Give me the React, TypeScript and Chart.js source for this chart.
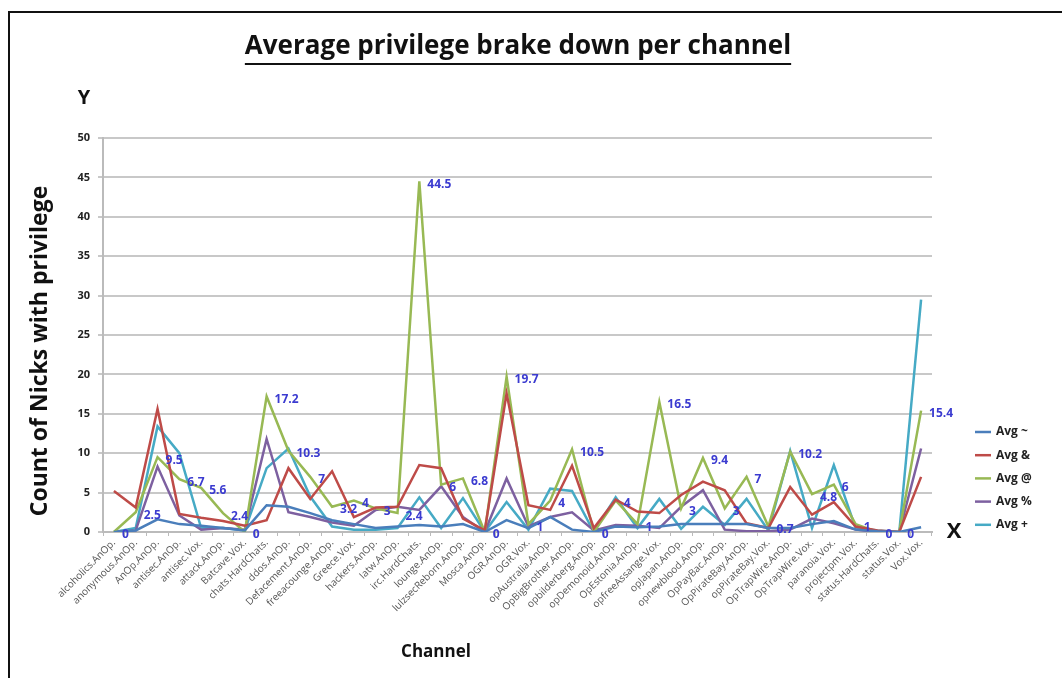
import React, { useEffect, useRef } from "react";
import { Chart, registerables } from "chart.js";

Chart.register(...registerables);

const channels = [
  "alcoholics.AnOp.", "anonymous.AnOp.", "AnOp.AnOp.", "antisec.AnOp.", "antisec.Vox.",
  "attack.AnOp.", "Batcave.Vox.", "chats.HardChats.", "ddos.AnOp.", "Defacement.AnOp.",
  "freeacounge.AnOp.", "Greece.Vox.", "hackers.AnOp.", "Iatw.AnOp.", "irc.HardChats.",
  "lounge.AnOp.", "lulzsecReborn.AnOp.", "Mosca.AnOp.", "OGR.AnOp.", "OGR.Vox.",
  "opAustralia.AnOp.", "OpBigBrother.AnOp.", "opbilderberg.AnOp.", "opDemonoid.AnOp.", "OpEstonia.AnOp.",
  "opfreeAssange.Vox.", "opJapan.AnOp.", "opnewblood.AnOp.", "OpPayBac.AnOp.", "OpPirateBay.AnOp.",
  "opPirateBay.Vox.", "OpTrapWire.AnOp.", "OpTrapWire.Vox.", "paranoia.Vox.", "projectpm.Vox.",
  "status.HardChats.", "status.Vox.", "Vox.Vox."
];

const avgTilde = [
  0, 0.2, 1.6, 1.0, 0.8, 0.5, 0.2, 3.4, 3.2, 2.4,
  1.5, 1.0, 0.5, 0.7, 0.9, 0.7, 1.0, 0, 1.5, 0.5,
  1.9, 0.3, 0, 0.7, 0.6, 0.7, 1.0, 1.0, 1.0, 1.0,
  0.5, 0.5, 1.0, 1.4, 0.3, 0.1, 0, 0.6
];
const avgAmp = [
  5.2, 3.1, 15.6, 2.3, 1.8, 1.4, 0.8, 1.5, 8.1, 4.2,
  7.7, 1.9, 3.1, 3.2, 8.5, 8.1, 1.7, 0.2, 17.6, 3.4,
  2.8, 8.4, 0.5, 4.1, 2.6, 2.4, 4.7, 6.4, 5.3, 1.1,
  0.5, 5.7, 2.2, 3.8, 0.7, 0.2, 0, 7.0
];
const avgAt = [
  0, 2.5, 9.5, 6.7, 5.6, 2.4, 0, 17.2, 10.3, 7,
  3.2, 4, 3, 2.4, 44.5, 6, 6.8, 0, 19.7, 1,
  4, 10.5, 0, 4, 1, 16.5, 3, 9.4, 3, 7,
  0.7, 10.2, 4.8, 6, 1, 0, 0, 15.4
];
const avgPct = [
  0, 0.2, 8.3, 2.1, 0.3, 0.5, 0.3, 11.8, 2.5, 1.9,
  1.2, 0.8, 2.8, 3.2, 2.8, 5.8, 1.9, 0, 6.8, 0.7,
  1.9, 2.5, 0.2, 0.9, 0.8, 0.5, 3.2, 5.3, 0.3, 0.1,
  0.1, 0.3, 1.7, 1.1, 0.3, 0, 0, 10.6
];
const avgPlus = [
  0, 0.5, 13.4, 10, 0.5, 0.5, 0.2, 8.1, 10.6, 4.5,
  0.7, 0.3, 0.3, 0.5, 4.4, 0.5, 4.3, 0, 3.8, 0.3,
  5.5, 5.2, 0, 4.4, 0.5, 4.2, 0.4, 3.2, 0.9, 4.2,
  0.2, 10.3, 0.5, 8.5, 0.5, 0.2, 0, 29.5
];

const seriesNames = ["Avg ~", "Avg &", "Avg @", "Avg %", "Avg +"];
const seriesColors = ["#4a7ebb", "#be4b48", "#98b954", "#7d60a0", "#46aac5"];
const seriesData = [avgTilde, avgAmp, avgAt, avgPct, avgPlus];

const chartTitle = "Average privilege brake down per channel";
const yTitle = "Count of Nicks with privilege";
const xTitle = "Channel";
const FONT = "'Open Sans', 'DejaVu Sans', sans-serif";

export default function App() {
  const canvasRef = useRef<HTMLCanvasElement>(null);

  useEffect(() => {
    if (!canvasRef.current) return;

    const decor = {
      id: "decor",
      beforeDraw(chart: any) {
        const ctx = chart.ctx;
        ctx.save();
        ctx.fillStyle = "#ffffff";
        ctx.fillRect(0, 0, chart.width, chart.height);
        ctx.strokeStyle = "#111111";
        ctx.lineWidth = 2;
        ctx.strokeRect(9, 12, chart.width + 50, chart.height + 50);
        ctx.restore();
      },
      afterDraw(chart: any) {
        const ctx = chart.ctx;
        const area = chart.chartArea;
        ctx.save();
        ctx.fillStyle = "#111111";
        // title
        ctx.font = `bold 26px ${FONT}`;
        ctx.textAlign = "center";
        ctx.textBaseline = "middle";
        const tx = 518;
        const ty = 47;
        ctx.fillText(chartTitle, tx, ty);
        const tw = ctx.measureText(chartTitle).width;
        ctx.fillRect(tx - tw / 2, ty + 16, tw, 2);
        // Y / X markers
        ctx.font = `bold 20px ${FONT}`;
        ctx.fillText("Y", 84, 98);
        ctx.font = `bold 22px ${FONT}`;
        ctx.fillText("X", area.right + 22, area.bottom);
        // axis titles
        ctx.font = `bold 17px ${FONT}`;
        ctx.fillText(xTitle, 436, 652);
        ctx.save();
        ctx.font = `bold 23px ${FONT}`;
        ctx.translate(40, (area.top + area.bottom) / 2 + 16);
        ctx.rotate(-Math.PI / 2);
        ctx.fillText(yTitle, 0, 0);
        ctx.restore();
        // data labels for Avg @
        const meta = chart.getDatasetMeta(2);
        ctx.font = `bold 12px ${FONT}`;
        ctx.fillStyle = "#3b3bd0";
        ctx.textAlign = "left";
        ctx.textBaseline = "middle";
        meta.data.forEach((pt: any, i: number) => {
          ctx.fillText(String(avgAt[i]), pt.x + 8, pt.y + 3);
        });
        // legend
        ctx.font = `bold 12px ${FONT}`;
        ctx.textBaseline = "middle";
        chart.data.datasets.forEach((ds: any, i: number) => {
          const y = 432 + i * 23.2;
          ctx.strokeStyle = ds.borderColor;
          ctx.lineWidth = 2.5;
          ctx.beginPath();
          ctx.moveTo(975, y);
          ctx.lineTo(991, y);
          ctx.stroke();
          ctx.fillStyle = "#222222";
          ctx.fillText(ds.label, 996, y);
        });
        ctx.restore();
      },
    };

    const chart = new Chart(canvasRef.current, {
      type: "line",
      data: {
        labels: channels,
        datasets: seriesNames.map((name, i) => ({
          label: name,
          data: seriesData[i],
          borderColor: seriesColors[i],
          backgroundColor: seriesColors[i],
          borderWidth: 2.5,
          pointRadius: 0,
          tension: 0,
          fill: false,
        })),
      },
      options: {
        animation: false,
        responsive: true,
        maintainAspectRatio: false,
        layout: { padding: { left: 0, top: 138, right: 130, bottom: 0 } },
        plugins: {
          legend: { display: false },
          title: { display: false },
          tooltip: { enabled: false },
        },
        scales: {
          x: {
            type: "category",
            offset: true,
            grid: { display: true, drawOnChartArea: false, drawTicks: true, tickLength: 4, color: "#bbbbbb", offset: true },
            border: { display: true, color: "#bbbbbb", width: 2 },
            ticks: {
              autoSkip: false,
              maxRotation: 45,
              minRotation: 45,
              color: "#555555",
              font: { family: FONT, size: 10 },
              padding: 1,
            },
            afterFit(scale: any) {
              scale.height = 146;
            },
          },
          y: {
            min: 0,
            max: 50,
            ticks: {
              stepSize: 5,
              color: "#222222",
              font: { family: FONT, size: 11, weight: "bold" },
              padding: 8,
            },
            grid: { color: "#c8c8c8", lineWidth: 2, tickLength: 5 },
            border: { display: true, color: "#bbbbbb", width: 2 },
            afterFit(scale: any) {
              scale.width = 103;
            },
          },
        },
      },
      plugins: [decor],
    });

    return () => chart.destroy();
  }, []);

  return (
    <div style={{ position: "fixed", left: 0, top: 0, width: 1062, height: 678, background: "#ffffff", overflow: "hidden" }}>
      <canvas ref={canvasRef} />
    </div>
  );
}
